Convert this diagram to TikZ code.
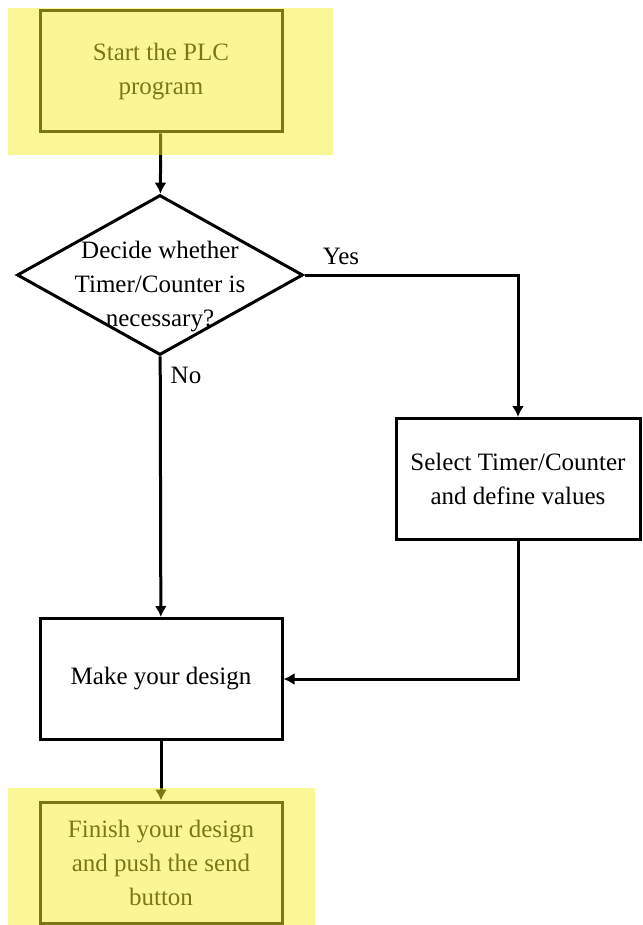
\documentclass[tikz,border=0pt]{standalone}
\usepackage{fontspec}
\setmainfont{Liberation Serif}[Ligatures=TeX]
\newfontfamily\stepfont{Liberation Serif}
\usetikzlibrary{arrows.meta, shapes.geometric, positioning}
\definecolor{marker}{RGB}{245,240,45}

\begin{document}
\begin{tikzpicture}[x=0.5pt, y=-0.5pt]
\tikzstyle{box} = [
	shape=rectangle,
	draw=black, %border of the step
	fill=white,
	line width=1.5pt,
	minimum width=121pt, %size of the steps
	minimum height=60.5pt,
	align=center,
	inner sep=2pt,
	font=\stepfont\fontsize{12.5}{17}\selectfont
];
\tikzstyle{decision} = [
	shape=diamond,
	draw=black,
	fill=white,
	line width=1.5pt,
	minimum width=143pt,
	minimum height=80pt,
	inner sep=-20pt,
	align=center,
	font=\stepfont\fontsize{12.5}{17}\selectfont
];
\tikzstyle{flow} = [-{Latex[length=5.5pt,width=6pt]}, line width=1.5pt, color=black];

\useasboundingbox (0,0) rectangle (642,925);

\node[box](start) at (161,71.5) {Start the PLC\\program};
\node[decision](decide) at (160,275) {\mbox{}\\[3pt]Decide whether\\Timer/Counter is\\necessary?};
\node[box, minimum width=122pt](select) at (518,479) {Select Timer/Counter\\and define values};
\node[box](design) at (161,679) {Make your design};
\node[box](finish) at (161,862.5) {Finish your design\\and push the send\\button};

\node[font=\stepfont\fontsize{12.5}{17}\selectfont](yes) at (341,256) {Yes};
\node[font=\stepfont\fontsize{12.5}{17}\selectfont](no) at (186,375) {No};

%main flow
\draw[flow] (start) -- (decide);
\draw[flow] (decide) -- (design);
\draw[flow] (design) -- (finish);

%yes branch
\draw[flow] (decide.east) -| (select.north);
\draw[flow] (select.south) |- (design.east);

%highlighted steps
\fill[marker, fill opacity=0.5] (8,8) rectangle (333,155);
\fill[marker, fill opacity=0.5] (8,788) rectangle (315,925);
\end{tikzpicture}
\end{document}
